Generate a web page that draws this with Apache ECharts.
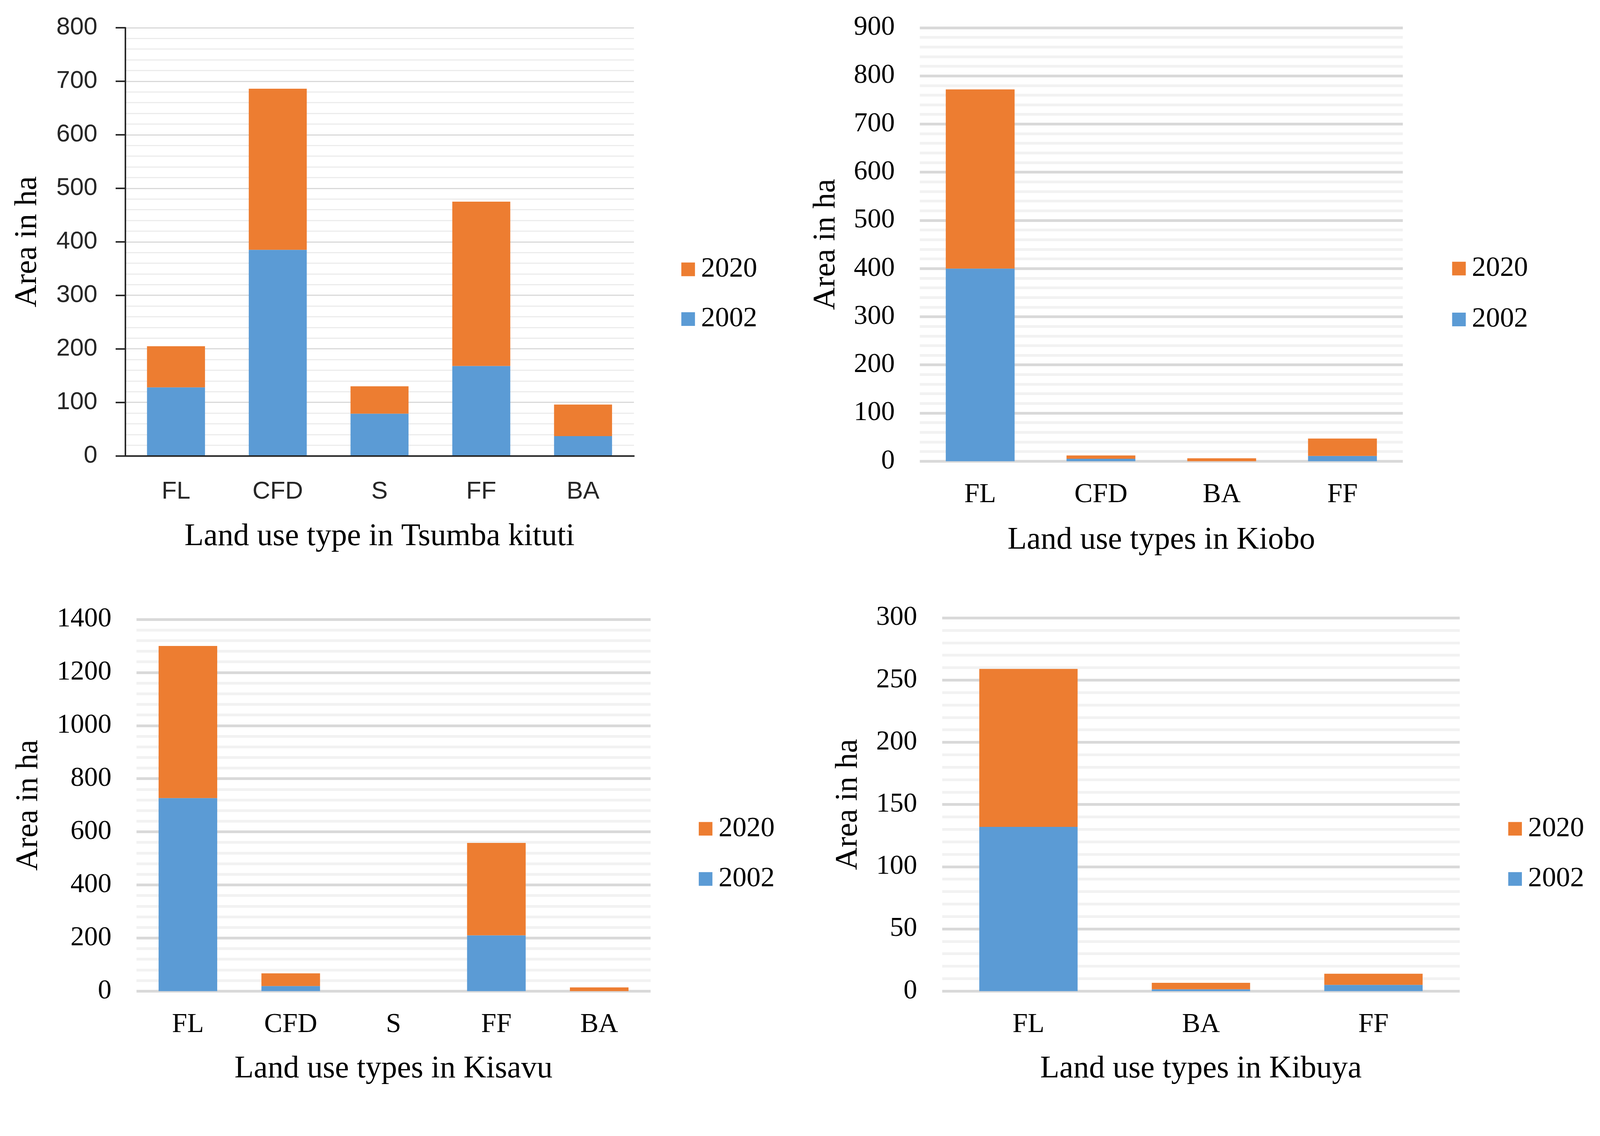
<!DOCTYPE html>
<html><head><meta charset="utf-8">
<script src="https://cdn.jsdelivr.net/npm/echarts@6/dist/echarts.min.js"></script>
<style>html,body{margin:0;padding:0;background:#fff;overflow:hidden}#c{width:100vw;height:100vh}</style>
</head><body><div id="c"></div>
<script>
// ---- data ----
const seriesNames = ['2002', '2020'];
const legendOrder = ['2020', '2002'];
const yAxisTitle = 'Area in ha';

const tsumbaCategories = ['FL', 'CFD', 'S', 'FF', 'BA'];
const tsumba2002 = [128, 385, 79, 168, 37];
const tsumba2020 = [77, 301, 51, 307, 59];

const kioboCategories = ['FL', 'CFD', 'BA', 'FF'];
const kiobo2002 = [400, 5, 0, 11];
const kiobo2020 = [372, 7, 6, 36];

const kisavuCategories = ['FL', 'CFD', 'S', 'FF', 'BA'];
const kisavu2002 = [727, 19, 0, 210, 0];
const kisavu2020 = [573, 48, 0, 348, 14];

const kibuyaCategories = ['FL', 'BA', 'FF'];
const kibuya2002 = [132, 1.5, 5];
const kibuya2020 = [127, 5.2, 9];

// ---- layout / style (designed for a 4220 x 2907 canvas, scaled to the viewport) ----
const BLUE = '#5B9BD5', ORANGE = '#ED7D31';
const SERIF = 'Liberation Serif, Times New Roman, serif';
const SANS = 'Liberation Sans, Arial, sans-serif';
const k = Math.min(window.innerWidth / 4220, window.innerHeight / 2907);
const px = v => v * k;

const panels = [
  { cats: tsumbaCategories, v2002: tsumba2002, v2020: tsumba2020, max: 800, interval: 100,
    left: 330, top: 73, width: 1342, height: 1129, xTitle: 'Land use type in Tsumba kituti',
    yGap: 215, xGap: 172, old: true, legendLeft: 1797, legendTop: 673, legendGap: 57 },
  { cats: kioboCategories, v2002: kiobo2002, v2020: kiobo2020, max: 900, interval: 100,
    left: 2426, top: 73, width: 1274, height: 1143, xTitle: 'Land use types in Kiobo',
    yGap: 205, xGap: 167, old: false, legendLeft: 3830, legendTop: 671, legendGap: 60 },
  { cats: kisavuCategories, v2002: kisavu2002, v2020: kisavu2020, max: 1400, interval: 200,
    left: 360, top: 1633, width: 1356, height: 980, xTitle: 'Land use types in Kisavu',
    yGap: 242, xGap: 164, old: false, legendLeft: 1843, legendTop: 2148, legendGap: 58 },
  { cats: kibuyaCategories, v2002: kibuya2002, v2020: kibuya2020, max: 300, interval: 50,
    left: 2485, top: 1629, width: 1365, height: 984, xTitle: 'Land use types in Kibuya',
    yGap: 206, xGap: 164, old: false, legendLeft: 3978, legendTop: 2148, legendGap: 58 }
];

const option = { animation: false, backgroundColor: '#fff',
  grid: [], xAxis: [], yAxis: [], series: [], legend: [] };

panels.forEach((p, i) => {
  const axisColor = '#262626';
  option.grid.push({ left: px(p.left), top: px(p.top), width: px(p.width), height: px(p.height),
    containLabel: false, outerBoundsMode: 'none' });

  const labelFont = p.old
    ? { fontFamily: SANS, fontSize: px(65), color: '#262626' }
    : { fontFamily: SERIF, fontSize: px(72), color: '#000' };

  option.xAxis.push({
    type: 'category', gridIndex: i, data: p.cats, z: p.old ? 5 : 0,
    axisLine: { show: p.old, lineStyle: { color: axisColor, width: px(4) } },
    axisTick: { show: false },
    axisLabel: Object.assign({ margin: px(p.old ? 62 : 53), interval: 0 }, labelFont),
    splitLine: { show: false },
    name: p.xTitle, nameLocation: 'middle', nameGap: px(p.xGap),
    nameTextStyle: { fontFamily: SERIF, fontSize: px(83), color: '#000' }
  });

  option.yAxis.push({
    type: 'value', gridIndex: i, min: 0, max: p.max, interval: p.interval,
    axisLine: { show: p.old, lineStyle: { color: axisColor, width: px(4) } },
    axisTick: { show: p.old, inside: false, length: px(25), lineStyle: { color: axisColor, width: px(4) } },
    axisLabel: Object.assign({ margin: px(p.old ? 73 : 66), formatter: v => String(v) }, labelFont),
    splitLine: { show: true, lineStyle: { color: '#d9d9d9', width: px(p.old ? 3 : 7) } },
    minorTick: { show: false, splitNumber: 5 },
    minorSplitLine: { show: true, lineStyle: { color: p.old ? '#ececec' : '#f2f2f2', width: px(p.old ? 3 : 7) } },
    name: yAxisTitle, nameLocation: 'middle', nameGap: px(p.yGap),
    nameTextStyle: { fontFamily: SERIF, fontSize: px(83), color: '#000' }
  });

  option.series.push({
    type: 'bar', name: seriesNames[0], xAxisIndex: i, yAxisIndex: i, stack: 's' + i,
    data: p.v2002, barCategoryGap: '43%', itemStyle: { color: BLUE }
  });
  option.series.push({
    type: 'bar', name: seriesNames[1], xAxisIndex: i, yAxisIndex: i, stack: 's' + i,
    data: p.v2020, barCategoryGap: '43%', itemStyle: { color: ORANGE }
  });

  option.legend.push({
    data: legendOrder, orient: 'vertical', left: px(p.legendLeft), top: px(p.legendTop),
    padding: 0, itemGap: px(p.legendGap), icon: 'rect', itemWidth: px(36), itemHeight: px(36),
    selectedMode: false,
    textStyle: { fontFamily: SERIF, fontSize: px(74), color: '#000', padding: [0, 0, 0, px(11)] }
  });
});

const chart = echarts.init(document.getElementById('c'), null, { renderer: 'canvas' });
chart.setOption(option);
</script>
</body></html>
